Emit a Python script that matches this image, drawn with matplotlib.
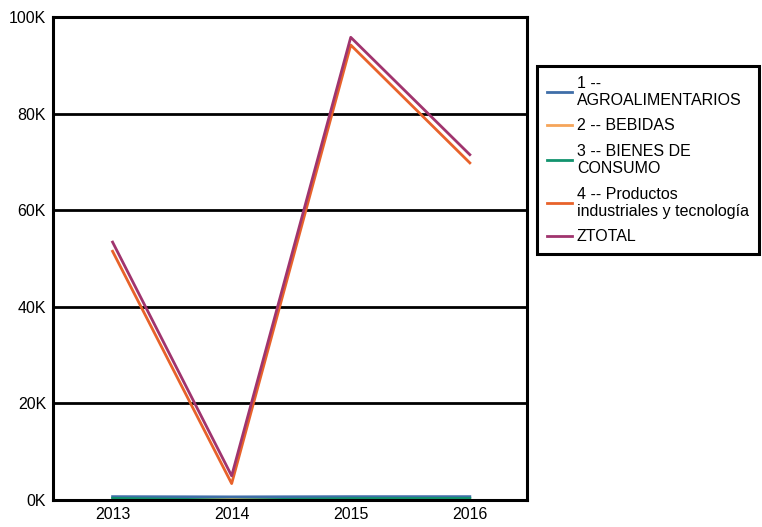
import matplotlib
matplotlib.use("Agg")
import matplotlib.pyplot as plt
from matplotlib.ticker import FuncFormatter

plt.rcParams['font.family'] = ['Liberation Sans', 'DejaVu Sans']

years = [2013, 2014, 2015, 2016]
agro = [700, 650, 700, 700]
bebidas = [50, 100, 50, 50]
bienes = [350, 0, 300, 350]
productos = [51500, 3400, 94200, 69800]
ztotal = [53400, 5000, 95800, 71500]

labels = ["1 --\nAGROALIMENTARIOS", "2 -- BEBIDAS", "3 -- BIENES DE\nCONSUMO",
          "4 -- Productos\nindustriales y tecnología", "ZTOTAL"]
colors = ['#3f6ea8', '#f5a55a', '#12936e', '#e8622a', '#a0346e']

fig = plt.figure(figsize=(7.62, 5.27), dpi=100)
ax = fig.add_axes([0.0696, 0.0512, 0.622, 0.9165])

for vals, lab, col in zip([agro, bebidas, bienes, productos, ztotal], labels, colors):
    ax.plot(years, vals, color=col, linewidth=2.0, label=lab)

ax.set_xlim(2012.5, 2016.48)
ax.set_ylim(0, 100000)
ax.set_xticks(years)
ax.set_yticks([0, 20000, 40000, 60000, 80000, 100000])
ax.yaxis.set_major_formatter(FuncFormatter(lambda v, p: f"{int(v / 1000)}K"))
ax.grid(axis='y', color='black', linewidth=2)
ax.set_axisbelow(True)
for s in ax.spines.values():
    s.set_linewidth(2.2)
    s.set_color('black')
ax.tick_params(length=0, labelsize=11.5, pad=5)

leg = fig.legend(loc='upper left', bbox_to_anchor=(537 / 762, 1 - 66 / 527),
                 fontsize=11.5, frameon=True, fancybox=False, framealpha=1,
                 handlelength=1.6, labelspacing=0.65, borderpad=0.6,
                 handletextpad=0.3, borderaxespad=0)
leg.get_frame().set_edgecolor('black')
leg.get_frame().set_linewidth(2.2)

fig.savefig("out.png", dpi=100)
